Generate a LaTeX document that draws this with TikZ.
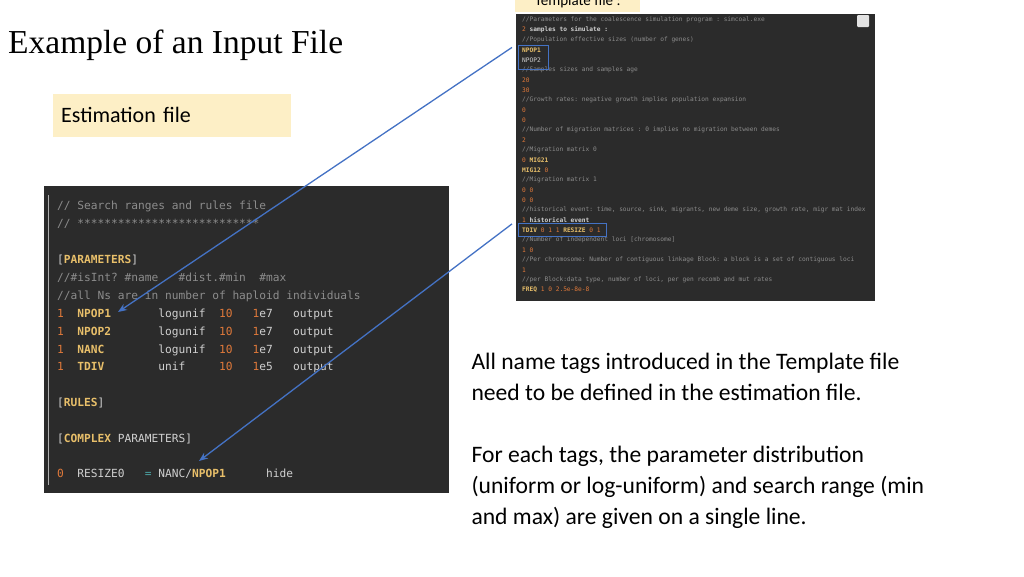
\documentclass[tikz,border=0pt]{standalone}
\usepackage{fontspec}
\setmainfont{Carlito}
\setmonofont{DejaVu Sans Mono}
\newfontfamily\titlefont{Liberation Serif}
\usetikzlibrary{positioning}
\usetikzlibrary{arrows.meta}
\definecolor{codebg}{HTML}{2B2B2B}
\definecolor{codecom}{HTML}{8C8C8C}
\definecolor{codenum}{HTML}{E0793A}
\definecolor{codetag}{HTML}{E8BF6A}
\definecolor{codetxt}{HTML}{D0D0D0}
\definecolor{labelbg}{HTML}{FDEFC6}
\definecolor{arrowblue}{HTML}{4472C4}
\newcommand{\cn}[1]{\textcolor{codenum}{#1}}
\newcommand{\ct}[1]{\textcolor{codetag}{\bfseries #1}}
\newcommand{\cc}[1]{\textcolor{codecom}{#1}}
\tikzset{
    tline/.style={
        anchor=west,
        inner sep=0pt,
        text=codetxt,
        font=\ttfamily\fontsize{6.2}{8}\selectfont,
    },
    eline/.style={
        anchor=west,
        inner sep=0pt,
        text=codetxt,
        font=\ttfamily\fontsize{11.2}{13}\selectfont,
    },
    label box/.style={
        fill=labelbg,
        rectangle, % Set the shape as a rectangle
        anchor=west,
        font=\fontsize{22}{25}\selectfont,
        align=left,
    },
    tag box/.style={
        draw=arrowblue,
        thick,
        rectangle, % Set the shape as a rectangle
        inner sep=0pt,
    },
    link/.style={
        draw=arrowblue,
        line width=1.3pt,
        -{Stealth[length=9pt,width=7pt]},
    },
}

\begin{document}
\begin{tikzpicture}[x=1pt, y=-1pt]
\useasboundingbox (0,0) rectangle (1024,576);

\node[anchor=west, inner sep=0pt, font=\titlefont\fontsize{33.5}{36}\selectfont] (title) at (8,45) {Example of an Input File};
\node[label box, text width=222, minimum height=43, inner xsep=8] (estlabel) at (53,115) {Estimation file};
\node[label box, minimum width=125, minimum height=20, anchor=south west, font=\fontsize{15}{18}\selectfont] (tmpllabel) at (515,12) {Template file :};

% template panel
\fill[codebg] (516,14) rectangle (875,301);
\node[fill=codetxt!60, minimum width=12, minimum height=12, inner sep=0pt, rounded corners=1pt] (copyicon) at (863,21) {};
\foreach \txt [count=\i] in {
    {\cc{//Parameters for the coalescence simulation program : simcoal.exe}},
    {\cn{2} \textbf{samples to simulate :}},
    {\cc{//Population effective sizes (number of genes)}},
    {\ct{NPOP1}},
    {NPOP2},
    {\cc{//Samples sizes and samples age}},
    {\cn{20}},
    {\cn{30}},
    {\cc{//Growth rates: negative growth implies population expansion}},
    {\cn{0}},
    {\cn{0}},
    {\cc{//Number of migration matrices : 0 implies no migration between demes}},
    {\cn{2}},
    {\cc{//Migration matrix 0}},
    {\cn{0} \ct{MIG21}},
    {\ct{MIG12} \cn{0}},
    {\cc{//Migration matrix 1}},
    {\cn{0 0}},
    {\cn{0 0}},
    {\cc{//historical event: time, source, sink, migrants, new deme size, growth rate, migr mat index}},
    {\cn{1} \textbf{historical event}},
    {\ct{TDIV} \cn{0 1 1} \ct{RESIZE} \cn{0 1}},
    {\cc{//Number of independent loci [chromosome]}},
    {\cn{1 0}},
    {\cc{//Per chromosome: Number of contiguous linkage Block: a block is a set of contiguous loci}},
    {\cn{1}},
    {\cc{//per Block:data type, number of loci, per gen recomb and mut rates}},
    {\ct{FREQ} \cn{1 0 2.5e-8e-8}}}
    \node[tline] (t\i) at (522,{10+10*\i}) {\txt};
\node[tag box, minimum width=30, minimum height=24, anchor=north west] (npopbox) at (518,45) {};
\node[tag box, minimum width=88, minimum height=13, anchor=north west] (tdivbox) at (518,223) {};

% estimation panel
\fill[codebg] (44,186) rectangle (449,493);
\draw[codecom!70, thin] (48,195) -- (48,485);
\node[eline] (e1) at (57,206) {\cc{// Search ranges and rules file}};
\node[eline] (e2) at (57,224) {\cc{// ***************************}};
\node[eline] (e3) at (57,260) {[\ct{PARAMETERS}]};
\node[eline] (e4) at (57,278) {\cc{//\#isInt? \#name\ \ \ \#dist.\#min\ \ \#max}};
\node[eline] (e5) at (57,296) {\cc{//all Ns are in number of haploid individuals}};
\node[eline] (e6) at (57,314) {\cn{1}\ \ \ct{NPOP1}\ \ \ \ \ \ \ logunif\ \ \cn{10}\ \ \ \cn{1}e7\ \ \ output};
\node[eline] (e7) at (57,332) {\cn{1}\ \ \ct{NPOP2}\ \ \ \ \ \ \ logunif\ \ \cn{10}\ \ \ \cn{1}e7\ \ \ output};
\node[eline] (e8) at (57,350) {\cn{1}\ \ \ct{NANC}\ \ \ \ \ \ \ \ logunif\ \ \cn{10}\ \ \ \cn{1}e7\ \ \ output};
\node[eline] (e9) at (57,367) {\cn{1}\ \ \ct{TDIV}\ \ \ \ \ \ \ \ unif\ \ \ \ \ \cn{10}\ \ \ \cn{1}e5\ \ \ output};
\node[eline] (e10) at (57,403) {[\ct{RULES}]};
\node[eline] (e11) at (57,439) {[\ct{COMPLEX} PARAMETERS]};
\node[eline] (e12) at (57,474) {\cn{0}\ \ RESIZE0\ \ \ \textcolor{teal!70!white}{=} NANC/\ct{NPOP1}\ \ \ \ \ \ hide};
\coordinate (npophead) at (118,312);
\coordinate (resizehead) at (199,461);

% explanation
\node[anchor=north west, align=left, font=\fontsize{23.6}{31}\selectfont] (note) at (468,350) {All name tags introduced in the Template file\\need to be defined in the estimation file.\\[31pt]For each tags, the parameter distribution\\(uniform or log-uniform) and search range (min\\and max) are given on a single line.};

\draw[link] ([xshift=-6,yshift=10]npopbox.west) -- (npophead);
\draw[link] ([xshift=-6,yshift=6]tdivbox.west) -- (resizehead);
\end{tikzpicture}
\end{document}
